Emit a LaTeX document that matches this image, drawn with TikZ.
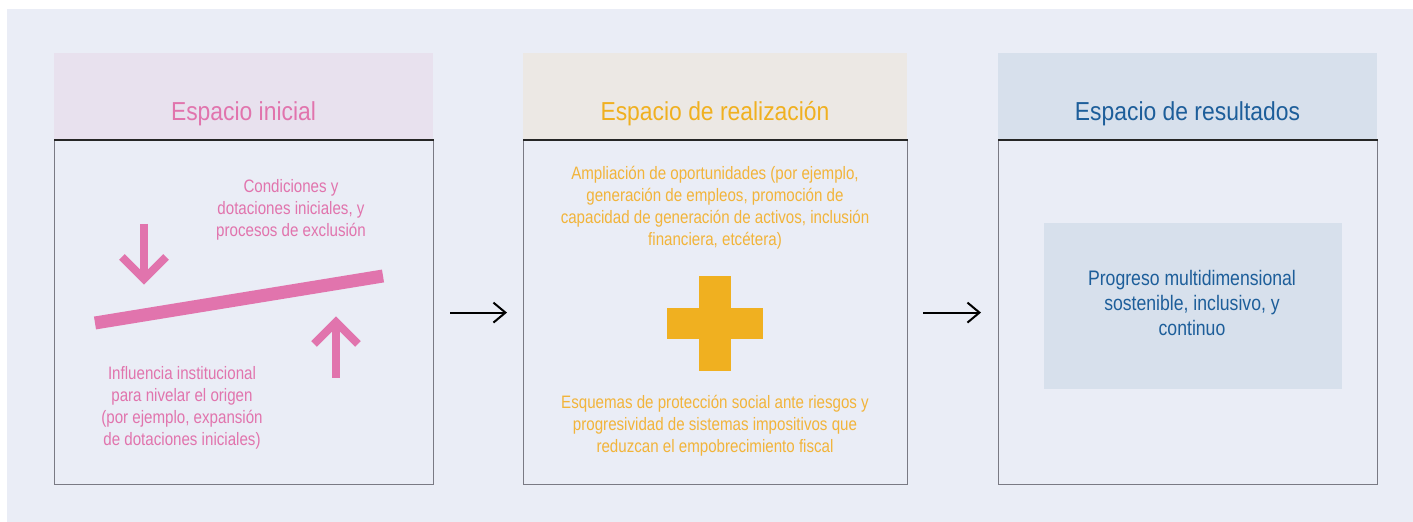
\documentclass[tikz,border=0pt]{standalone}
\usepackage{fontspec}
\setmainfont{Liberation Sans}[FakeStretch=0.84]
\newfontfamily\titlefont{Liberation Sans}[FakeStretch=0.88]
\usetikzlibrary{arrows.meta,positioning}

\definecolor{pinkC}{HTML}{E174AD}
\definecolor{orangeC}{HTML}{F0B020}
\definecolor{orangeT}{HTML}{F2B43A}
\definecolor{blueC}{HTML}{1D5E9A}
\definecolor{bgC}{HTML}{EAEDF6}
\definecolor{hdrPink}{HTML}{E8E1EE}
\definecolor{hdrTan}{HTML}{ECE8E4}
\definecolor{hdrBlue}{HTML}{D7E0EC}
\definecolor{borderC}{HTML}{7A7A84}

\tikzset{
  hdr/.style={anchor=north west, inner sep=0pt, minimum height=43.5pt},
  bodybox/.style={anchor=north west, inner sep=0pt, minimum height=172pt, draw=borderC, line width=0.6pt, fill=bgC},
  ttl/.style={anchor=base, font=\titlefont\fontsize{13}{15}\selectfont},
  txt/.style={align=center, inner sep=0pt, font=\fontsize{9}{11}\selectfont},
  rule/.style={line width=1.2pt, black!85},
  flow/.style={line width=1pt, -{Straight Barb[length=6pt,width=10pt,line width=1pt]}},
  pinkline/.style={pinkC, line width=4pt},
}

\begin{document}
\begin{tikzpicture}[x=0.5pt, y=-0.5pt]
  \useasboundingbox (0,0) rectangle (1413,522);
  \fill[bgC] (7,9) rectangle (1413,522);

  % panel 1
  \node[hdr, fill=hdrPink, minimum width=189.5pt] (hdrA) at (54,53) {};
  \node[bodybox, minimum width=189.5pt] (bodyA) at (54,140) {};
  \draw[rule] (bodyA.north west) -- (bodyA.north east);
  \node[ttl, pinkC] (ttlA) at (243.5,121) {Espacio inicial};
  \node[txt, pinkC] (condA) at (291,210) {Condiciones y\\dotaciones iniciales, y\\procesos de exclusión};
  \node[txt, pinkC] (inflA) at (182,408) {Influencia institucional\\para nivelar el origen\\(por ejemplo, expansión\\de dotaciones iniciales)};
  \draw[pinkC, line width=6.5pt] (95,323) -- (383,276);
  \draw[pinkline] (144,224) -- (144,277);
  \draw[pinkline, miter limit=10] (122,257) -- (144,279) -- (166,257);
  \draw[pinkline] (336,378) -- (336,325);
  \draw[pinkline, miter limit=10] (314,344) -- (336,322) -- (358,344);

  % panel 2
  \node[hdr, fill=hdrTan, minimum width=192pt] (hdrB) at (523,53) {};
  \node[bodybox, minimum width=192pt] (bodyB) at (523,140) {};
  \draw[rule] (bodyB.north west) -- (bodyB.north east);
  \node[ttl, orangeC] (ttlB) at (715,121) {Espacio de realización};
  \node[txt, orangeT] (oporB) at (715,208) {Ampliación de oportunidades (por ejemplo,\\generación de empleos, promoción de\\capacidad de generación de activos, inclusión\\financiera, etcétera)};
  \fill[orangeC] (699,276) rectangle (731,371);
  \fill[orangeC] (667,308) rectangle (763,339);
  \node[txt, orangeT] (protB) at (715,426) {Esquemas de protección social ante riesgos y\\progresividad de sistemas impositivos que\\reduzcan el empobrecimiento fiscal};

  % panel 3
  \node[hdr, fill=hdrBlue, minimum width=189.5pt] (hdrC) at (998,53) {};
  \node[bodybox, minimum width=189.5pt] (bodyC) at (998,140) {};
  \draw[rule] (bodyC.north west) -- (bodyC.north east);
  \node[ttl, blueC] (ttlC) at (1187.5,121) {Espacio de resultados};
  \node[fill=hdrBlue, minimum width=149pt, minimum height=83pt, inner sep=0pt] (progC) at (1193,306) {};
  \node[txt, blueC, font=\fontsize{10.5}{12.5}\selectfont] (progT) at (1192,303) {Progreso multidimensional\\sostenible, inclusivo, y\\continuo};

  % connectors
  \draw[flow] ([xshift=8pt]bodyA.east) -- ([xshift=-8pt]bodyB.west);
  \draw[flow] ([xshift=7.5pt]bodyB.east) -- ([xshift=-8.5pt]bodyC.west);
\end{tikzpicture}
\end{document}
